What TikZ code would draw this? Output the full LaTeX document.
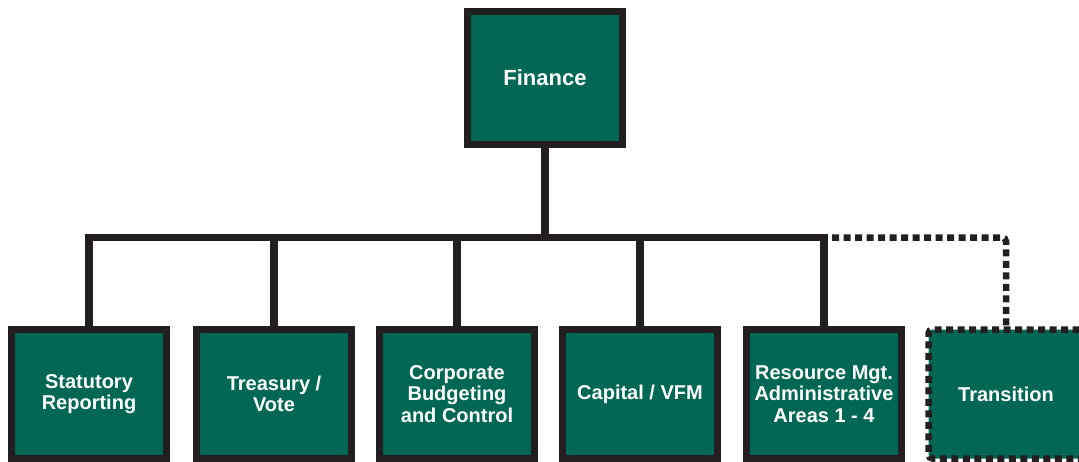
\documentclass[tikz,border=0pt]{standalone}
\usepackage{fontspec}
\setmainfont{Liberation Sans}
\definecolor{boxgreen}{RGB}{0,103,84}
\definecolor{linedark}{RGB}{35,31,32}
\tikzset{
  orgbox/.style={draw=linedark, fill=boxgreen, line width=7pt, minimum width=155pt, minimum height=129pt,
    inner sep=0pt, text=white, align=center, font=\bfseries\fontsize{20}{21.5}\selectfont},
  topbox/.style={orgbox, minimum height=133pt, font=\bfseries\fontsize{22}{24}\selectfont},
  dashbox/.style={orgbox, draw=linedark, line width=6.5pt, dash pattern=on 7pt off 4.5pt, rounded corners=4pt},
  conn/.style={draw=linedark, line width=7.5pt},
  dotconn/.style={draw=linedark, line width=6.5pt, dash pattern=on 7pt off 4.5pt, rounded corners=4pt}
}
\begin{document}
\begin{tikzpicture}[x=1pt,y=-1pt]
\useasboundingbox (0,0) rectangle (1079,461);
\clip (0,0) rectangle (1079,461);
\node[topbox] (fin) at (545,78) {Finance};
\node[orgbox] (stat) at (89,394) {Statutory\\Reporting};
\node[orgbox] (treas) at (274,394) {Treasury /\\Vote};
\node[orgbox] (corp) at (457,394) {Corporate\\Budgeting\\and Control};
\node[orgbox] (cap) at (640,394) {Capital / VFM};
\node[orgbox] (res) at (824,394) {Resource Mgt.\\Administrative\\Areas 1 - 4};
\coordinate (barY) at (0,237.5);
\draw[conn] (stat.north) |- (res.north |- barY) -- (res.north);
\draw[conn] (fin.south) -- (fin.south |- barY);
\draw[conn] (treas.north) -- (treas.north |- barY);
\draw[conn] (corp.north) -- (corp.north |- barY);
\draw[conn] (cap.north) -- (cap.north |- barY);
\node[dashbox] (trans) at (1006,394) {Transition};
\coordinate (dstart) at ([xshift=8pt]res.north |- barY);
\draw[dotconn] (dstart) -| (trans.north);
\end{tikzpicture}
\end{document}
